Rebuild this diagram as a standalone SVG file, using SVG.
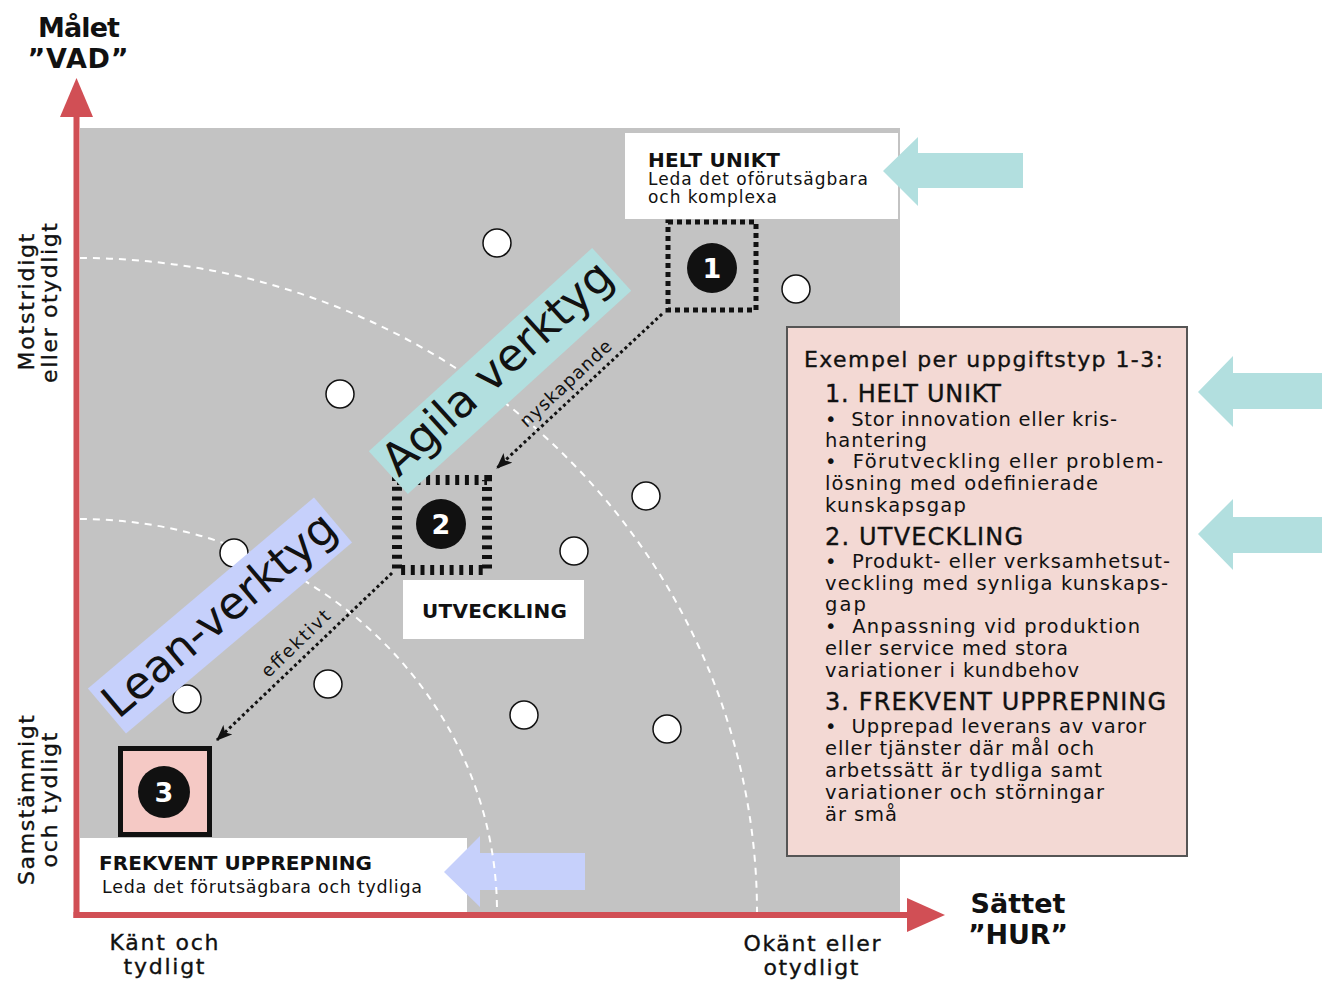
<svg xmlns="http://www.w3.org/2000/svg" width="1322" height="981" viewBox="0 0 1322 981">
<defs>
<style>
text{font-family:"DejaVu Sans","Liberation Sans",sans-serif;fill:#111}
.b{font-weight:bold}
.m{stroke:#111;stroke-width:0.35}
.num{font-weight:bold;fill:#fff;font-size:27px;text-anchor:middle}
.dot{fill:#fff;stroke:#111;stroke-width:1.5}
.arc{fill:none;stroke:#fff;stroke-width:2;stroke-dasharray:7 6}
.con{fill:none;stroke:#111;stroke-width:3;stroke-dasharray:3 3}
.body{font-size:19.5px}
.hd{font-size:24px}
.ax{font-size:22px}
</style>
<marker id="ah" viewBox="0 0 16 13" refX="15" refY="6.5" markerWidth="16" markerHeight="13" markerUnits="userSpaceOnUse" orient="auto"><path d="M0,0 L16,6.5 L0,13 L4,6.5 z" fill="#111"/></marker>
</defs>
<rect width="1322" height="981" fill="#fff"/>
<rect x="80" y="128" width="820" height="784" fill="#c3c3c3"/>

<g id="helt-unikt-label">
<rect x="625" y="133" width="273" height="86" fill="#fff"/>
<text class="b" x="648" y="167" font-size="20" textLength="132">HELT UNIKT</text>
<text x="648" y="185" font-size="17" textLength="220">Leda det oförutsägbara</text>
<text x="648" y="203" font-size="17" textLength="129">och komplexa</text>
</g>
<g id="frekvent-label">
<rect x="80" y="838" width="387" height="74" fill="#fff"/>
<text class="b" x="99" y="870" font-size="20" textLength="273">FREKVENT UPPREPNING</text>
<text x="102" y="893" font-size="17.5" textLength="320">Leda det förutsägbara och tydliga</text>
</g>
<g id="utveckling-label">
<rect x="403" y="580" width="181" height="59" fill="#fff"/>
<text class="b" x="422" y="618" font-size="20" textLength="145">UTVECKLING</text>
</g>

<g id="pointer-arrows">
<polygon points="883,171 918,137 918,153 1023,153 1023,188 918,188 918,206" fill="#b2dfdf"/>
<polygon points="1198,392 1233,356 1233,373 1322,373 1322,409 1233,409 1233,427" fill="#b2dfdf"/>
<polygon points="1198,534 1233,499 1233,517 1322,517 1322,553 1233,553 1233,570" fill="#b2dfdf"/>
<polygon points="444,872 480,836 480,853 585,853 585,890 480,890 480,907" fill="#c6d0fb"/>
</g>

<g id="arcs">
<path class="arc" d="M80,258 A677,654 0 0 1 757,912"/>
<path class="arc" d="M80,519 A417,393 0 0 1 497,912"/>
</g>

<g id="dots">
<circle class="dot" cx="497" cy="243" r="14"/>
<circle class="dot" cx="796" cy="289" r="14"/>
<circle class="dot" cx="340" cy="394" r="14"/>
<circle class="dot" cx="646" cy="496" r="14"/>
<circle class="dot" cx="574" cy="551" r="14"/>
<circle class="dot" cx="234" cy="553" r="14"/>
<circle class="dot" cx="187" cy="699" r="14"/>
<circle class="dot" cx="328" cy="684" r="14"/>
<circle class="dot" cx="524" cy="715" r="14"/>
<circle class="dot" cx="667" cy="729" r="14"/>
</g>

<g id="node1">
<rect x="668" y="222" width="88" height="88" fill="none" stroke="#111" stroke-width="5" stroke-dasharray="5 4"/>
<circle cx="712" cy="268" r="25" fill="#111"/>
<text class="num" x="712" y="278">1</text>
</g>
<g id="node2">
<rect x="397" y="480" width="90" height="90" fill="none" stroke="#111" stroke-width="10" stroke-dasharray="4 5.7"/>
<circle cx="441" cy="524" r="25" fill="#111"/>
<text class="num" x="441" y="534">2</text>
</g>
<g id="node3">
<rect x="120.5" y="748.5" width="89" height="86" fill="#f5c9c5" stroke="#111" stroke-width="5"/>
<circle cx="164" cy="792" r="26" fill="#111"/>
<text class="num" x="164" y="802">3</text>
</g>

<g id="agila-band" transform="translate(500,371) rotate(-42.3)">
<rect x="-151" y="-29" width="302" height="58" fill="#b2dfdf"/>
<text x="0" y="11" font-size="45" text-anchor="middle" textLength="294">Agila verktyg</text>
</g>
<g id="lean-band" transform="translate(220,615.5) rotate(-40.2)">
<rect x="-148" y="-29.5" width="296" height="59" fill="#c6d0fb"/>
<text x="0" y="14" font-size="45" text-anchor="middle" textLength="290">Lean-verktyg</text>
</g>

<g id="connectors">
<line class="con" x1="662" y1="314" x2="497" y2="468" marker-end="url(#ah)"/>
<line class="con" x1="392" y1="573" x2="217" y2="740" marker-end="url(#ah)"/>
<text x="0" y="0" font-size="18" text-anchor="middle" textLength="118" transform="translate(570,388) rotate(-43)">nyskapande</text>
<text x="0" y="0" font-size="18" text-anchor="middle" textLength="88" transform="translate(300,648) rotate(-44)">effektivt</text>
</g>

<g id="examples-panel">
<rect x="787" y="327" width="400" height="529" fill="#f3d9d4" stroke="#555" stroke-width="2"/>
<text class="m" x="804" y="367" font-size="22" textLength="359">Exempel per uppgiftstyp 1-3:</text>
<text class="m hd" x="825" y="402" textLength="176">1. HELT UNIKT</text>
<text class="body" x="825" y="426" textLength="292">•&#160; Stor innovation eller kris-</text>
<text class="body" x="825" y="447" textLength="102">hantering</text>
<text class="body" x="825" y="468" textLength="338">•&#160; Förutveckling eller problem-</text>
<text class="body" x="825" y="490" textLength="273">lösning med odefinierade</text>
<text class="body" x="825" y="512" textLength="141">kunskapsgap</text>
<text class="m hd" x="825" y="545" textLength="198">2. UTVECKLING</text>
<text class="body" x="825" y="568" textLength="345">•&#160; Produkt- eller verksamhetsut-</text>
<text class="body" x="825" y="590" textLength="343">veckling med synliga kunskaps-</text>
<text class="body" x="825" y="611" textLength="41">gap</text>
<text class="body" x="825" y="633" textLength="315">•&#160; Anpassning vid produktion</text>
<text class="body" x="825" y="655" textLength="243">eller service med stora</text>
<text class="body" x="825" y="677" textLength="254">variationer i kundbehov</text>
<text class="m hd" x="825" y="710" textLength="341">3. FREKVENT UPPREPNING</text>
<text class="body" x="825" y="733" textLength="321">•&#160; Upprepad leverans av varor</text>
<text class="body" x="825" y="755" textLength="269">eller tjänster där mål och</text>
<text class="body" x="825" y="777" textLength="277">arbetssätt är tydliga samt</text>
<text class="body" x="825" y="799" textLength="279">variationer och störningar</text>
<text class="body" x="825" y="821" textLength="72">är små</text>
</g>

<g id="axes">
<rect x="73.5" y="110" width="6" height="808" fill="#d14f55"/>
<polygon points="60,117 76.5,78 93,117" fill="#d14f55"/>
<rect x="73.5" y="912" width="836" height="6" fill="#d14f55"/>
<polygon points="907,898 945,915 907,932" fill="#d14f55"/>
<text class="b" x="79" y="37" font-size="27" text-anchor="middle" textLength="82">Målet</text>
<text class="b" x="78" y="68" font-size="27" text-anchor="middle" textLength="101">”VAD”</text>
<text class="b" x="1018" y="913" font-size="27" text-anchor="middle" textLength="95">Sättet</text>
<text class="b" x="1018" y="944" font-size="27" text-anchor="middle" textLength="100">”HUR”</text>
<text class="m ax" x="164" y="950" text-anchor="middle" textLength="109">Känt och</text>
<text class="m ax" x="164" y="974" text-anchor="middle" textLength="81">tydligt</text>
<text class="m ax" x="812" y="951" text-anchor="middle" textLength="137">Okänt eller</text>
<text class="m ax" x="811" y="975" text-anchor="middle" textLength="95">otydligt</text>
<text class="m ax" text-anchor="middle" textLength="137" transform="translate(34,302) rotate(-90)">Motstridigt</text>
<text class="m ax" text-anchor="middle" textLength="160" transform="translate(57,303) rotate(-90)">eller otydligt</text>
<text class="m ax" text-anchor="middle" textLength="170" transform="translate(34,800) rotate(-90)">Samstämmigt</text>
<text class="m ax" text-anchor="middle" textLength="135" transform="translate(57,800) rotate(-90)">och tydligt</text>
</g>
</svg>
